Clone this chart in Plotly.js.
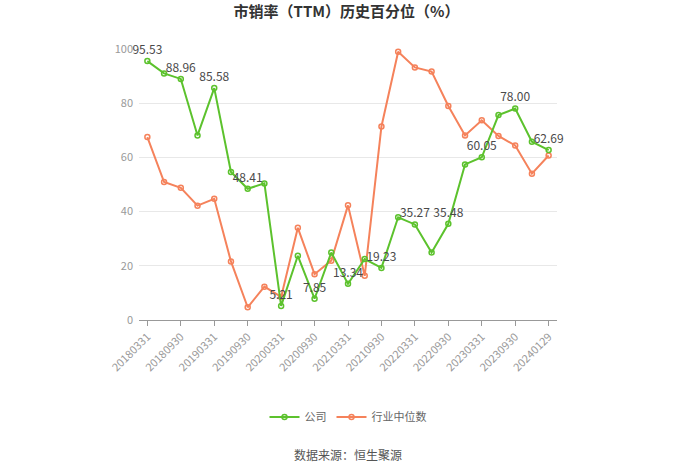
<!DOCTYPE html>
<html>
<head>
<meta charset="utf-8">
<script src="https://cdn.plot.ly/plotly-3.0.1.min.js"></script>
<style>html,body{margin:0;padding:0;background:#fff;}#chart{width:700px;height:473px;}</style>
</head>
<body>
<div id="chart"></div>
<script>
const dates = ["20180331","20180630","20180930","20181231","20190331","20190630","20190930","20191231","20200331","20200630","20200930","20201231","20210331","20210630","20210930","20211231","20220331","20220630","20220930","20221231","20230331","20230630","20230930","20231231","20240129"];
const company = [95.53,91.0,88.96,68.1,85.58,54.6,48.41,50.4,5.21,23.7,7.85,24.9,13.34,22.5,19.23,37.9,35.27,24.9,35.48,57.4,60.05,75.6,78.00,65.8,62.69];
const industry = [67.5,50.9,48.8,42.2,44.7,21.6,4.7,12.3,8.5,34.0,16.9,21.9,42.3,16.3,71.4,99.0,93.2,91.7,79.0,68.1,73.7,67.9,64.4,54.0,60.7];
const tickDates = dates.filter((d,i)=>i%2===0);

const labelText = company.map((v,i)=> i%2===0 ? v.toFixed(2) : "");
const font = "'Microsoft YaHei','Noto Sans CJK SC','Noto Sans',sans-serif";

const traces = [
  {
    x: dates, y: company, name: "公司", type: "scatter", mode: "lines+markers+text",
    text: labelText, textposition: "top center",
    textfont: {size: 12, color: "#4a4a4a", family: font},
    line: {color: "#5cc22d", width: 2},
    marker: {symbol: "circle-open", size: 5, color: "#5cc22d", line: {width: 1.5}},
    cliponaxis: false, hoverinfo: "x+y"
  },
  {
    x: dates, y: industry, name: "行业中位数", type: "scatter", mode: "lines+markers",
    line: {color: "#f5825b", width: 2},
    marker: {symbol: "circle-open", size: 5, color: "#f5825b", line: {width: 1.5}},
    cliponaxis: false, hoverinfo: "x+y"
  }
];
const data = [traces[1], traces[0]];

const layout = {
  width: 700, height: 473,
  margin: {l: 139, r: 143, t: 49, b: 153},
  paper_bgcolor: "#fff", plot_bgcolor: "#fff",
  font: {family: font, color: "#999", size: 11},
  title: {text: "<b>市销率（TTM）历史百分位（%）</b>", x: 0.495, xanchor: "center", y: 0.975, yanchor: "middle", yref: "container", font: {size: 15, color: "#333", family: font}},
  xaxis: {
    type: "category", categoryorder: "array", categoryarray: dates,
    range: [-0.5, 24.5], tickmode: "array", tickvals: tickDates, ticktext: tickDates,
    tickangle: -45, ticks: "outside", ticklen: 5, tickcolor: "#999",
    showline: true, linecolor: "#999", linewidth: 1, showgrid: false,
    tickfont: {size: 11, color: "#999", family: font}, zeroline: false
  },
  yaxis: {
    range: [0, 100], tickvals: [0,20,40,60,80,100], showgrid: true, gridcolor: "#e8e8e8",
    zeroline: false, showline: false, ticks: "", ticklabelstandoff: 5,
    tickfont: {size: 11, color: "#999", family: font}
  },
  showlegend: true,
  legend: {orientation: "h", x: 0.5, xanchor: "center", y: -0.358, yanchor: "middle", itemwidth: 30,
    font: {size: 11, color: "#666", family: font}, traceorder: "reversed"},
  annotations: [
    {text: "数据来源：恒生聚源", xref: "paper", yref: "paper", x: 0.5, y: -0.498, xanchor: "center", yanchor: "middle", showarrow: false, font: {size: 12, color: "#555", family: font}}
  ]
};
Plotly.newPlot("chart", data, layout, {displayModeBar: false, staticPlot: true});
</script>
</body>
</html>
